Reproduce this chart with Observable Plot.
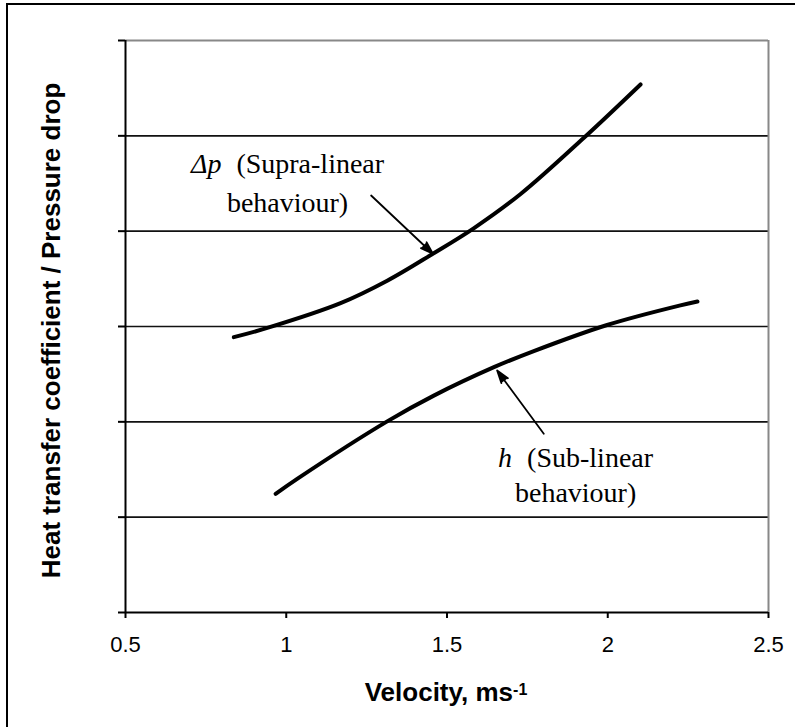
<!DOCTYPE html>
<html><head><meta charset="utf-8">
<script src="https://cdn.jsdelivr.net/npm/d3@7"></script>
<script src="https://cdn.jsdelivr.net/npm/@observablehq/plot@0.6"></script>
<style>
html,body{margin:0;padding:0;background:#fff;}
#wrap{position:relative;width:795px;height:727px;overflow:hidden;}
#border{position:absolute;left:6px;top:3px;right:-10px;bottom:-10px;border-top:2px solid #000;border-left:2px solid #000;pointer-events:none;}
</style></head><body>
<div id="wrap"><div id="chart"></div><div id="border"></div></div>
<script>
// ---- data ----
const xTicks = [0.5, 1, 1.5, 2, 2.5];
const xTickLabels = ["0.5", "1", "1.5", "2", "2.5"];
const yTicks = [0, 1, 2, 3, 4, 5, 6];
const gridValues = [1, 2, 3, 4, 5];

const dpVelocity = [0.837, 0.941, 1.169, 1.314, 1.456, 1.583, 1.729, 1.926, 2.102];
const dpValues   = [2.888, 2.985, 3.245, 3.480, 3.763, 4.030, 4.390, 4.980, 5.539];

const hVelocity = [0.967, 1.034, 1.314, 1.459, 1.646, 1.770, 1.998, 2.226, 2.279];
const hValues   = [1.245, 1.402, 2.005, 2.275, 2.573, 2.742, 3.016, 3.222, 3.262];

const annSymbol = ["Δp", "", "h", ""];
const annRest   = ["(Supra-linear", "behaviour)", "(Sub-linear", "behaviour)"];
const annX      = [1.004, 1.004, 1.900, 1.900];
const annY      = [4.605, 4.199, 1.521, 1.164];

const arrowX1 = [1.264, 1.801];
const arrowY1 = [4.374, 1.875];
const arrowX2 = [1.456, 1.656];
const arrowY2 = [3.763, 2.538];

const xLabelMain = "Velocity, ms";
const xLabelSup = "-1";
const yLabel = "Heat transfer coefficient / Pressure drop";

// ---- tables ----
const dpRows = dpVelocity.map((v, i) => ({v, y: dpValues[i]}));
const hRows = hVelocity.map((v, i) => ({v, y: hValues[i]}));
const annRows = annRest.map((r, i) => ({x: annX[i], y: annY[i], t: annSymbol[i] ? annSymbol[i] + " " + r : r}));
const arrowRows = arrowX1.map((d, i) => ({x1: d, y1: arrowY1[i], x2: arrowX2[i], y2: arrowY2[i]}));

const serif = "'Liberation Serif','Times New Roman',serif";
const sans = "'Liberation Sans',Arial,sans-serif";

const svg = Plot.plot({
  width: 795,
  height: 727,
  marginLeft: 125,
  marginRight: 27,
  marginTop: 40,
  marginBottom: 115,
  x: {domain: [0.5, 2.5]},
  y: {domain: [0, 6]},
  style: {fontFamily: sans, background: "transparent", color: "black"},
  marks: [
    Plot.ruleY(gridValues, {stroke: "#111", strokeWidth: 1.7}),
    Plot.ruleY([6], {stroke: "#888", strokeWidth: 2}),
    Plot.ruleX([2.5], {stroke: "#888", strokeWidth: 2}),
    Plot.line(dpRows, {x: "v", y: "y", curve: "catmull-rom", stroke: "black", strokeWidth: 4}),
    Plot.line(hRows, {x: "v", y: "y", curve: "catmull-rom", stroke: "black", strokeWidth: 4}),
    Plot.arrow(arrowRows, {x1: "x1", y1: "y1", x2: "x2", y2: "y2", stroke: "black", fill: "black", strokeWidth: 1.8, headLength: 11, headAngle: 36}),
    Plot.text(annRows, {x: "x", y: "y", text: "t", fontFamily: serif, fontSize: 28, lineAnchor: "bottom", textAnchor: "middle", fill: "black"}),
    Plot.ruleX([0.5], {stroke: "black", strokeWidth: 2}),
    Plot.ruleY([0], {stroke: "black", strokeWidth: 2}),
    Plot.axisX(xTicks, {tickSize: 6, tickPadding: 18, fontSize: 22, stroke: "black", strokeWidth: 2, tickFormat: d => xTickLabels[xTicks.indexOf(d)], label: null}),
    Plot.axisY(yTicks, {tickSize: 7, stroke: "black", strokeWidth: 2, tickFormat: () => "", label: null}),
    Plot.text([xLabelMain + xLabelSup], {frameAnchor: "bottom", dy: 88, dx: -1, lineAnchor: "bottom", textAnchor: "middle", fontSize: 26, fontWeight: "bold", fontFamily: sans, fill: "black"}),
    Plot.text([yLabel], {frameAnchor: "left", dx: -66, dy: 4, rotate: -90, lineAnchor: "bottom", textAnchor: "middle", fontSize: 26, fontWeight: "bold", fontFamily: sans, fill: "black"})
  ]
});

// rich-text touches: italic symbols and superscript
d3.select(svg).selectAll("text").each(function() {
  const t = this.textContent;
  const i = annRows.findIndex(r => r.t === t);
  if (i >= 0 && annSymbol[i]) {
    const sel = d3.select(this);
    sel.text(null);
    sel.append("tspan").attr("font-style", "italic").text(annSymbol[i]);
    sel.append("tspan").attr("dx", 8).text(" " + annRest[i]);
  } else if (t === xLabelMain + xLabelSup) {
    const sel = d3.select(this);
    sel.text(null);
    sel.append("tspan").text(xLabelMain);
    sel.append("tspan").attr("font-size", 16).attr("dy", -6).text(xLabelSup);
  }
});

document.getElementById("chart").appendChild(svg);
</script>
</body></html>
